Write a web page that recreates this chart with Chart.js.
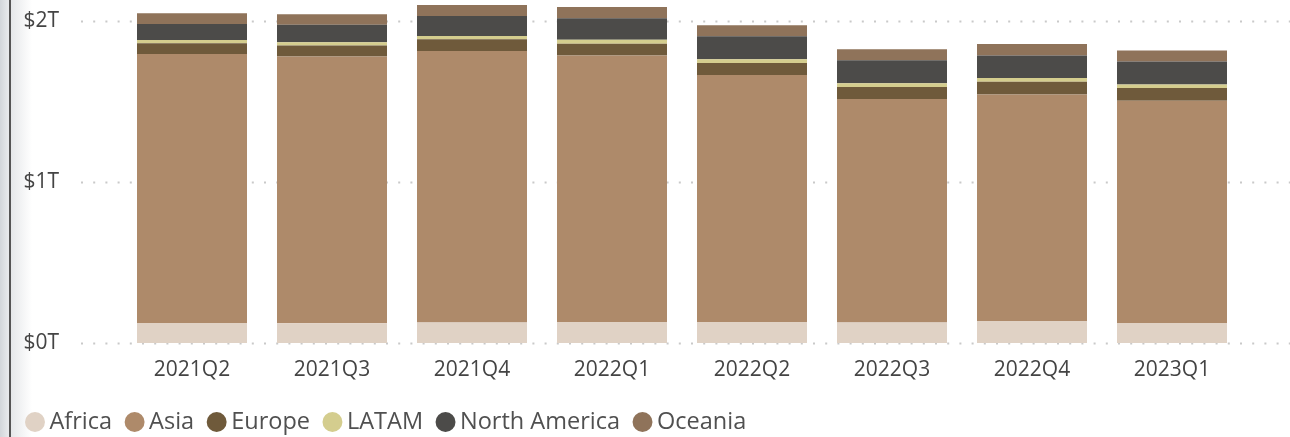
<!DOCTYPE html>
<html>
<head>
<meta charset="utf-8">
<script src="https://cdn.jsdelivr.net/npm/chart.js@4.4.0/dist/chart.umd.min.js"></script>
<style>
  html, body { margin: 0; padding: 0; }
  body {
    width: 1290px; height: 437px; overflow: hidden;
    background:
      linear-gradient(to right, #d2d6da 0px, #e9ebed 9px, #555555 9px, #555555 11px, #e6e8ea 11px, #ffffff 32px, #ffffff 100%);
  }
  #wrap { position: absolute; left: 0; top: 0; width: 1290px; height: 437px; }
</style>
</head>
<body>
<div id="wrap"><canvas id="c" width="1290" height="437"></canvas></div>
<script>
const categories = ["2021Q2", "2021Q3", "2021Q4", "2022Q1", "2022Q2", "2022Q3", "2022Q4", "2023Q1"];
// values in trillions of dollars
const africa       = [0.124, 0.122, 0.127, 0.130, 0.130, 0.127, 0.137, 0.124];
const asia         = [1.671, 1.657, 1.686, 1.656, 1.534, 1.388, 1.406, 1.381];
const europe       = [0.066, 0.068, 0.073, 0.072, 0.075, 0.075, 0.079, 0.079];
const latam        = [0.021, 0.021, 0.021, 0.025, 0.023, 0.023, 0.023, 0.021];
const northAmerica = [0.099, 0.108, 0.124, 0.133, 0.143, 0.143, 0.140, 0.143];
const oceania      = [0.066, 0.066, 0.068, 0.070, 0.068, 0.068, 0.071, 0.068];
const yTicks = [0, 1, 2];

const FONT = '"Segoe UI", "Open Sans", sans-serif';

const dottedGrid = {
  id: 'dottedGrid',
  beforeDatasetsDraw(chart) {
    const y = chart.scales.y;
    const ctx = chart.ctx;
    ctx.save();
    ctx.strokeStyle = '#c9c9c9';
    ctx.lineWidth = 2;
    ctx.setLineDash([2, 10.2]);
    yTicks.forEach(v => {
      const py = Math.round(y.getPixelForValue(v)) + 0.5;
      ctx.beginPath();
      ctx.moveTo(81, py);
      ctx.lineTo(chart.width, py);
      ctx.stroke();
    });
    ctx.restore();
  }
};

const mk = (label, data, color) => ({ label, data, backgroundColor: color, borderWidth: 0, stack: 's' });

new Chart(document.getElementById('c'), {
  type: 'bar',
  data: {
    labels: categories,
    datasets: [
      mk('Africa', africa, '#e0d2c5'),
      mk('Asia', asia, '#ae8a6a'),
      mk('Europe', europe, '#6f5a3b'),
      mk('LATAM', latam, '#d4cd8e'),
      mk('North America', northAmerica, '#4c4b49'),
      mk('Oceania', oceania, '#8f735a')
    ]
  },
  options: {
    responsive: false,
    animation: false,
    devicePixelRatio: 1,
    layout: { padding: { left: 12.5, right: 48, top: 0, bottom: 0 } },
    datasets: { bar: { categoryPercentage: 1.0, barPercentage: 110 / 140 } },
    scales: {
      x: {
        stacked: true,
        grid: { display: false },
        border: { display: false },
        ticks: { color: '#444', font: { family: FONT, size: 21 }, padding: 6, maxRotation: 0 },
        afterFit: s => { s.height = 47.5; s.paddingLeft = 0; s.paddingRight = 0; }
      },
      y: {
        stacked: true,
        min: 0, max: 2.13,
        grid: { display: false },
        border: { display: false },
        afterBuildTicks: s => { s.ticks = yTicks.map(v => ({ value: v })); },
        afterFit: s => { s.width = 109.5; s.paddingTop = 0; s.paddingBottom = 0; },
        ticks: {
          color: '#444', font: { family: FONT, size: 21 }, padding: 55, crossAlign: 'near',
          callback: v => '$' + v + 'T'
        }
      }
    },
    plugins: {
      tooltip: { enabled: false },
      legend: {
        position: 'bottom', align: 'start', maxHeight: 46.5,
        labels: {
          usePointStyle: true, pointStyle: 'circle',
          boxWidth: 5.5, boxHeight: 14.1, padding: 19.75,
          color: '#505050', font: { family: FONT, size: 23.5 }
        }
      }
    }
  },
  plugins: [dottedGrid]
});
</script>
</body>
</html>
